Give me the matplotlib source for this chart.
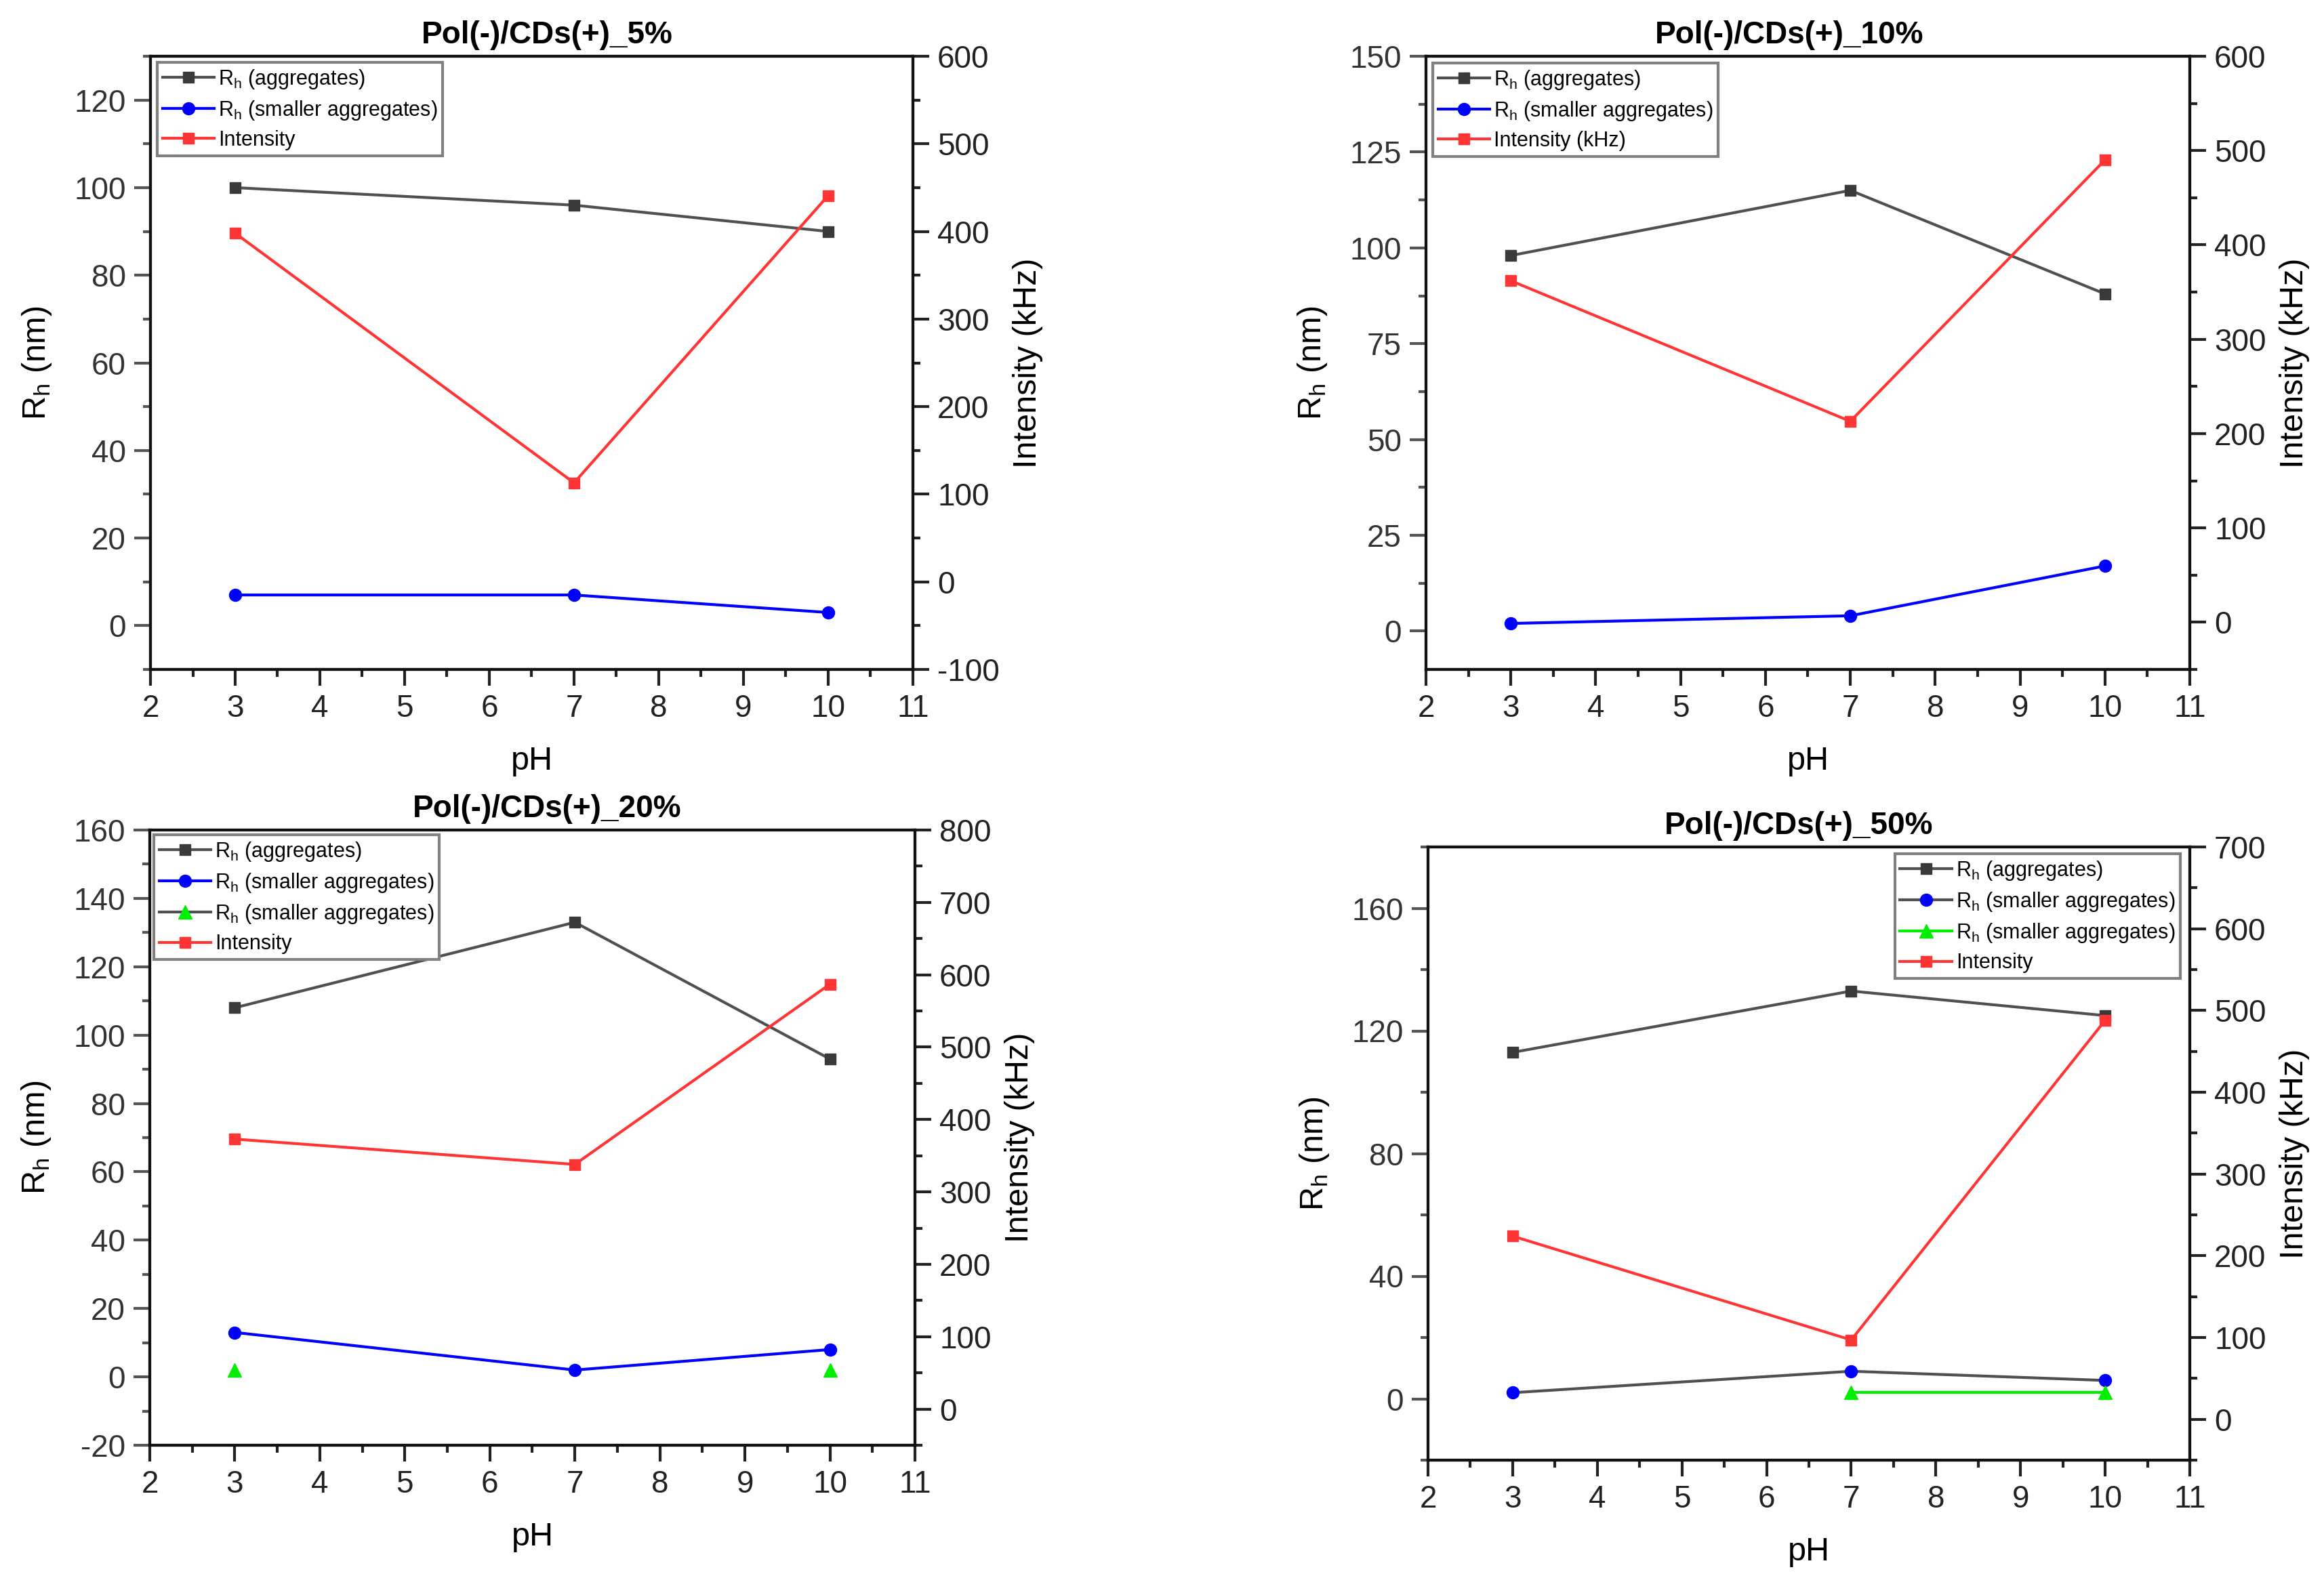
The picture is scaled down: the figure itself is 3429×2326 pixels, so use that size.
import numpy as np
import matplotlib
matplotlib.use('Agg')
import matplotlib.pyplot as plt
from matplotlib.ticker import MultipleLocator

plt.rcParams['font.family'] = ['Liberation Sans', 'DejaVu Sans']
plt.rcParams['mathtext.fontset'] = 'custom'
plt.rcParams['mathtext.rm'] = 'Liberation Sans'
plt.rcParams['mathtext.it'] = 'Liberation Sans:italic'
plt.rcParams['axes.unicode_minus'] = False

# ---------------- data ----------------
ph = [3, 7, 10]

titles = ['Pol(-)/CDs(+)_5%', 'Pol(-)/CDs(+)_10%',
          'Pol(-)/CDs(+)_20%', 'Pol(-)/CDs(+)_50%']

rh_agg_5 = [100, 96, 90]
rh_small_5 = [7, 7, 3]
int_5 = [398, 113, 441]

rh_agg_10 = [98, 115, 88]
rh_small_10 = [2, 4, 17]
int_10 = [362, 213, 490]

rh_agg_20 = [108, 133, 93]
rh_small_20 = [13, 2, 8]
rh_small2_20 = [2, np.nan, 2]
int_20 = [373, 338, 587]

rh_agg_50 = [113, 133, 125]
rh_small_50 = [2, 9, 6]
rh_small2_50 = [np.nan, 2, 2]
int_50 = [224, 97, 488]

lbl_agg = r'R$_\mathregular{h}$ (aggregates)'
lbl_small = r'R$_\mathregular{h}$ (smaller aggregates)'

# ---------------- layout ----------------
W, H = 3430, 2326
fig = plt.figure(figsize=(W / 100, H / 100), dpi=100)


def rect(l, t, r, b):
    return [l / W, 1 - b / H, (r - l) / W, (b - t) / H]


GRAY = '#505050'
GRAYM = '#3a3a3a'
BLUE = '#0000ff'
RED = '#ff3535'
GREEN = '#00ee00'
TICKC = '#222222'


def style_axes(ax, ax2, ylim, ymaj, ymin, y2lim, y2maj, y2min):
    ax.set_xlim(2, 11)
    ax.xaxis.set_major_locator(MultipleLocator(1))
    ax.xaxis.set_minor_locator(MultipleLocator(0.5))
    ax.set_ylim(*ylim)
    ax.yaxis.set_major_locator(MultipleLocator(ymaj))
    ax.yaxis.set_minor_locator(MultipleLocator(ymin))
    ax2.set_ylim(*y2lim)
    ax2.yaxis.set_major_locator(MultipleLocator(y2maj))
    ax2.yaxis.set_minor_locator(MultipleLocator(y2min))
    for a in (ax, ax2):
        for s in a.spines.values():
            s.set_linewidth(3)
            s.set_color('#111111')
        a.tick_params(which='major', direction='out', length=17, width=3,
                      labelsize=33, pad=9, colors=TICKC)
        a.tick_params(which='minor', direction='out', length=8, width=3,
                      colors=TICKC)
    ax.spines['left'].set_color('#555555')
    ax.tick_params(axis='y', which='both', color='#555555', labelcolor='#333333')
    ax.tick_params(top=False, right=False, which='both')
    ax2.tick_params(axis='y', which='both', right=True, left=False)
    ax.set_xlabel('pH', fontsize=35, labelpad=24)
    ax.set_ylabel(r'R$_\mathregular{h}$ (nm)', fontsize=35, labelpad=22)
    ax2.set_ylabel('Intensity (kHz)', fontsize=35, labelpad=14)


def make_legend(ax2, handles, labels, anchor, loc):
    leg = ax2.legend(handles, labels, loc=loc,
                     bbox_to_anchor=(anchor[0] / W, 1 - anchor[1] / H),
                     bbox_transform=fig.transFigure, fontsize=22,
                     frameon=True, fancybox=False, edgecolor='#808080',
                     borderpad=0.25, labelspacing=0.4, handlelength=2.5,
                     handletextpad=0.2, borderaxespad=0, framealpha=1)
    leg.get_frame().set_linewidth(3)
    return leg


LW = 3
MS = 12

# ---------------- panel 1 ----------------
ax = fig.add_axes(rect(222, 83, 1347, 988))
ax2 = ax.twinx()
l1, = ax.plot(ph, rh_agg_5, color=GRAY, lw=LW, marker='s', ms=MS, mfc=GRAYM, mec=GRAYM)
l2, = ax.plot(ph, rh_small_5, color=BLUE, lw=LW, marker='o', ms=MS + 1)
l3, = ax2.plot(ph, int_5, color=RED, lw=LW, marker='s', ms=MS)
style_axes(ax, ax2, (-10, 130), 20, 10, (-100, 600), 100, 50)
ax.set_title(titles[0], fontsize=33, fontweight='bold', x=0.52, pad=14)
make_legend(ax2, [l1, l2, l3], [lbl_agg, lbl_small, 'Intensity'], (232, 92), 'upper left')

# ---------------- panel 2 ----------------
ax = fig.add_axes(rect(2104, 83, 3231, 988))
ax2 = ax.twinx()
l1, = ax.plot(ph, rh_agg_10, color=GRAY, lw=LW, marker='s', ms=MS, mfc=GRAYM, mec=GRAYM)
l2, = ax.plot(ph, rh_small_10, color=BLUE, lw=LW, marker='o', ms=MS + 1)
l3, = ax2.plot(ph, int_10, color=RED, lw=LW, marker='s', ms=MS)
style_axes(ax, ax2, (-10, 150), 25, 12.5, (-50, 600), 100, 50)
ax.set_title(titles[1], fontsize=33, fontweight='bold', x=0.476, pad=14)
make_legend(ax2, [l1, l2, l3], [lbl_agg, lbl_small, 'Intensity (kHz)'], (2114, 93), 'upper left')

# ---------------- panel 3 ----------------
ax = fig.add_axes(rect(221, 1225, 1350, 2133))
ax2 = ax.twinx()
l1, = ax.plot(ph, rh_agg_20, color=GRAY, lw=LW, marker='s', ms=MS, mfc=GRAYM, mec=GRAYM)
l2, = ax.plot(ph, rh_small_20, color=BLUE, lw=LW, marker='o', ms=MS + 1)
l4, = ax.plot(ph, rh_small2_20, color=GRAY, lw=LW, marker='^', ms=MS + 2, mfc=GREEN, mec=GREEN)
l3, = ax2.plot(ph, int_20, color=RED, lw=LW, marker='s', ms=MS)
style_axes(ax, ax2, (-20, 160), 20, 10, (-50, 800), 100, 50)
ax.set_title(titles[2], fontsize=33, fontweight='bold', x=0.519, pad=14)
make_legend(ax2, [l1, l2, l4, l3], [lbl_agg, lbl_small, lbl_small, 'Intensity'], (227, 1232), 'upper left')

# ---------------- panel 4 ----------------
ax = fig.add_axes(rect(2107, 1250, 3231, 2155))
ax2 = ax.twinx()
l1, = ax.plot(ph, rh_agg_50, color=GRAY, lw=LW, marker='s', ms=MS, mfc=GRAYM, mec=GRAYM)
l2, = ax.plot(ph, rh_small_50, color=GRAY, lw=LW, marker='o', ms=MS + 1, mfc=BLUE, mec=BLUE)
l4, = ax.plot(ph, rh_small2_50, color=GREEN, lw=LW, marker='^', ms=MS + 2, mfc=GREEN, mec=GREEN)
l3, = ax2.plot(ph, int_50, color=RED, lw=LW, marker='s', ms=MS)
style_axes(ax, ax2, (-20, 180), 40, 20, (-50, 700), 100, 50)
ax.set_title(titles[3], fontsize=33, fontweight='bold', x=0.487, pad=14)
make_legend(ax2, [l1, l2, l4, l3], [lbl_agg, lbl_small, lbl_small, 'Intensity'], (3217, 1260), 'upper right')

fig.savefig('out.png', dpi=100, facecolor='white')
